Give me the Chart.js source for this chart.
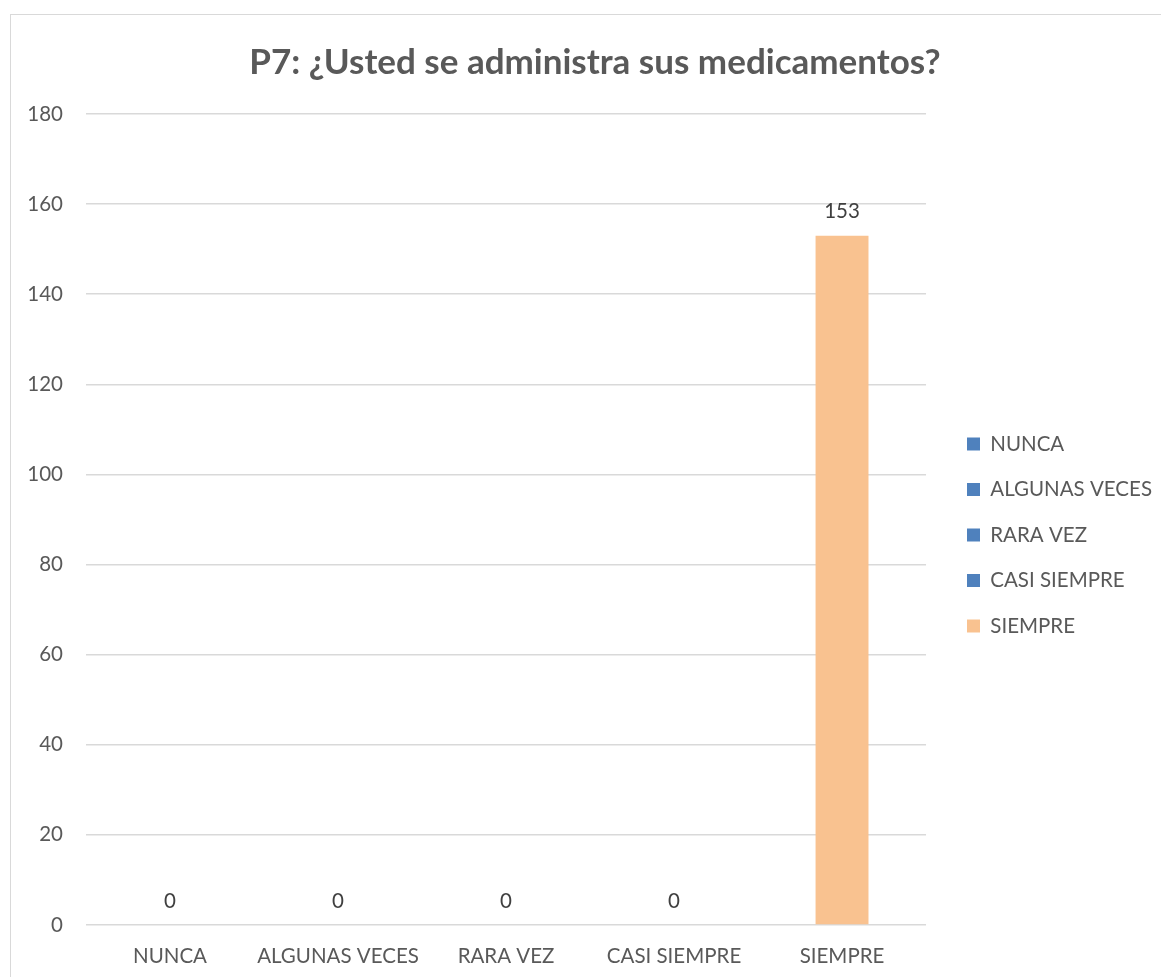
<!DOCTYPE html>
<html>
<head>
<meta charset="utf-8">
<script src="https://cdn.jsdelivr.net/npm/chart.js@4.4.1/dist/chart.umd.min.js"></script>
<style>
  html, body { margin: 0; padding: 0; background: #fff; overflow: hidden; width: 1161px; height: 977px; }
  #frame { position: absolute; left: 10px; top: 14px; width: 1200px; height: 1000px; border: 1.5px solid #d9d9d9; box-sizing: border-box; }
  #c { position: absolute; left: 0; top: 0; }
</style>
</head>
<body>
<div id="frame"></div>
<canvas id="c" width="1182" height="977"></canvas>
<script>
// Responses to question P7
const categories = ['NUNCA', 'ALGUNAS VECES', 'RARA VEZ', 'CASI SIEMPRE', 'SIEMPRE'];
const counts = [0, 0, 0, 0, 153];
const barColors = ['#4f81bd', '#4f81bd', '#4f81bd', '#4f81bd', '#f9c290'];
const yTicks = [0, 20, 40, 60, 80, 100, 120, 140, 160, 180];

const FONT = 'Lato, "Open Sans", sans-serif';
const TEXT = '#595959';

// Value labels above each bar
const valueLabels = {
  id: 'valueLabels',
  afterDatasetsDraw(chart) {
    const ctx = chart.ctx;
    const meta = chart.getDatasetMeta(0);
    ctx.save();
    ctx.font = '20.5px ' + FONT;
    ctx.fillStyle = '#404040';
    ctx.textAlign = 'center';
    ctx.textBaseline = 'middle';
    meta.data.forEach((bar, i) => {
      ctx.fillText(String(counts[i]), bar.x, bar.y - 24);
    });
    ctx.restore();
  }
};

// Centre the legend column a little lower, next to the middle of the plot
const legendOffset = {
  id: 'legendOffset',
  afterLayout(chart) {
    const lg = chart.legend;
    if (lg) { lg.top += 38; lg.bottom += 38; }
  }
};

new Chart(document.getElementById('c'), {
  type: 'bar',
  data: {
    labels: categories,
    datasets: [{
      data: counts,
      backgroundColor: barColors,
      borderWidth: 0,
      barPercentage: 0.315,
      categoryPercentage: 1
    }]
  },
  options: {
    responsive: false,
    animation: false,
    layout: { padding: { left: 28, right: 20, top: 26, bottom: 9 } },
    plugins: {
      title: {
        display: true,
        text: 'P7: ¿Usted se administra sus medicamentos?',
        color: TEXT,
        font: { family: FONT, size: 35, weight: 'bold' },
        padding: { top: 16, bottom: 30 }
      },
      legend: {
        position: 'right',
        maxWidth: 260,
        labels: {
          color: TEXT,
          font: { family: FONT, size: 20.5 },
          boxWidth: 13, boxHeight: 13, padding: 25,
          generateLabels: () => categories.map((c, i) => ({
            text: c, fillStyle: barColors[i], strokeStyle: barColors[i],
            lineWidth: 0, hidden: false, index: i, fontColor: TEXT
          }))
        },
        onClick: () => {}
      },
      tooltip: { enabled: false }
    },
    scales: {
      x: {
        grid: { display: false, drawTicks: false },
        border: { display: false },
        ticks: { color: TEXT, font: { family: FONT, size: 20.5 }, padding: 19, maxRotation: 0 },
        afterFit: s => { s.height = 43; }
      },
      y: {
        min: 0, max: 180,
        afterBuildTicks: s => { s.ticks = yTicks.map(v => ({ value: v })); },
        grid: { color: '#d9d9d9', lineWidth: 1.5, drawTicks: false },
        border: { display: false },
        ticks: { color: TEXT, font: { family: FONT, size: 20.5 }, padding: 23 },
        afterFit: s => { s.width = 58; }
      },
      gap: {
        position: 'right', display: true,
        grid: { display: false }, border: { display: false }, ticks: { display: false },
        afterFit: s => { s.width = 16; }
      }
    }
  },
  plugins: [valueLabels, legendOffset]
});
</script>
</body>
</html>
